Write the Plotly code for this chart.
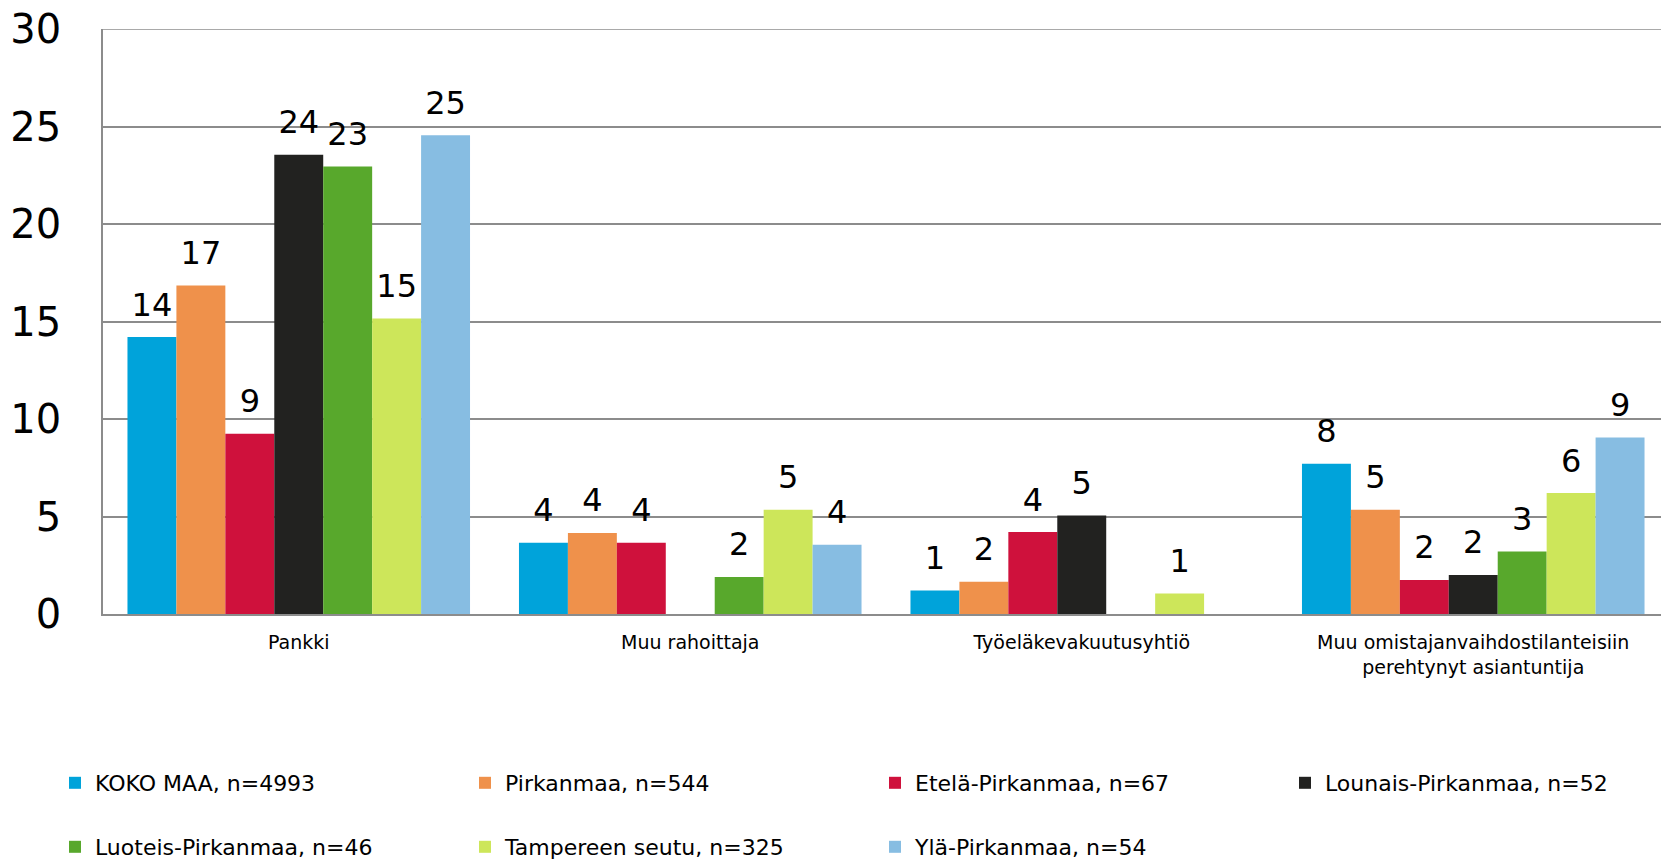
import plotly.graph_objects as go

categories = ["Pankki", "Muu rahoittaja", "Työeläkevakuutusyhtiö",
              "Muu omistajanvaihdostilanteisiin<br>perehtynyt asiantuntija"]

series_names = ["KOKO MAA, n=4993", "Pirkanmaa, n=544", "Etelä-Pirkanmaa, n=67",
                "Lounais-Pirkanmaa, n=52", "Luoteis-Pirkanmaa, n=46",
                "Tampereen seutu, n=325", "Ylä-Pirkanmaa, n=54"]

koko_maa = [14.2, 3.65, 1.2, 7.7]
pirkanmaa = [16.85, 4.15, 1.65, 5.35]
etela = [9.25, 3.65, 4.2, 1.75]
lounais = [23.55, None, 5.05, 2.0]
luoteis = [22.95, 1.9, None, 3.2]
tampere = [15.15, 5.35, 1.05, 6.2]
yla = [24.55, 3.55, None, 9.05]

series_values = [koko_maa, pirkanmaa, etela, lounais, luoteis, tampere, yla]
colors = ["#00A3DA", "#EF914B", "#CF113C", "#222220", "#58A82C", "#CDE65A", "#87BDE2"]

y_ticks = [0, 5, 10, 15, 20, 25, 30]

FONT = "DejaVu Sans"

fig = go.Figure()
for i, (name, vals, col) in enumerate(zip(series_names, series_values, colors)):
    fig.add_trace(go.Bar(
        x=categories, y=vals, name=name,
        marker=dict(color=col, line=dict(width=0)),
        texttemplate="<span style='font-size:32px'>%{y:.0f}</span><br>&nbsp;",
        textposition="outside",
        textfont=dict(family=FONT, size=12, color="#000000"),
        constraintext="none", cliponaxis=False,
        legend="legend" if i < 4 else "legend2",
    ))

# the page body has an 8px margin, so the figure is offset by 8px
OFF = 8
SW, SH = 1669, 862
W, H = SW - OFF, SH - OFF
ml, mr, mt = 103 - OFF, 0, 29 - OFF
mb = H - (614 - OFF)
PLOT_TOP, PLOT_BOT, PLOT_L, PLOT_R = 29, 614, 103, 1669

def py(sy):
    return (PLOT_BOT - sy) / (PLOT_BOT - PLOT_TOP)

def pxx(sx):
    return (sx - PLOT_L) / (PLOT_R - PLOT_L)

legend_common = dict(
    orientation="h", entrywidth=365, entrywidthmode="pixels",
    font=dict(family=FONT, size=22, color="#000000"),
    bgcolor="rgba(0,0,0,0)", borderwidth=0,
    xanchor="left", yanchor="middle", traceorder="normal",
    itemclick=False, itemdoubleclick=False,
)

fig.update_layout(
    width=W, height=H,
    margin=dict(l=ml, r=mr, t=mt, b=mb, autoexpand=False),
    paper_bgcolor="white", plot_bgcolor="white",
    barmode="group", bargap=0.125, bargroupgap=0,
    font=dict(family=FONT, color="#000000"),
    showlegend=True,
    legend=dict(x=pxx(55), y=py(783), **legend_common),
    legend2=dict(x=pxx(55), y=py(847), **legend_common),
    xaxis=dict(
        showgrid=False, showline=True, linecolor="#8C8C8C", linewidth=2,
        ticks="", tickfont=dict(family=FONT, size=19, color="#000000"),
        ticklabelstandoff=10, fixedrange=True,
    ),
    yaxis=dict(
        range=[0, 30], tickvals=y_ticks, ticktext=[str(v) for v in y_ticks],
        showgrid=True, gridcolor="#8C8C8C", gridwidth=1.5,
        showline=True, linecolor="#8C8C8C", linewidth=1.5,
        zeroline=False, ticks="",
        tickfont=dict(family=FONT, size=40, color="#000000"),
        ticklabelstandoff=32, ticklabeloverflow="allow", fixedrange=True,
    ),
    shapes=[dict(type="line", xref="paper", x0=0, x1=1, yref="y", y0=30, y1=30,
                 line=dict(color="#8C8C8C", width=1.5), layer="below")],
)

fig.write_html("out.html")
